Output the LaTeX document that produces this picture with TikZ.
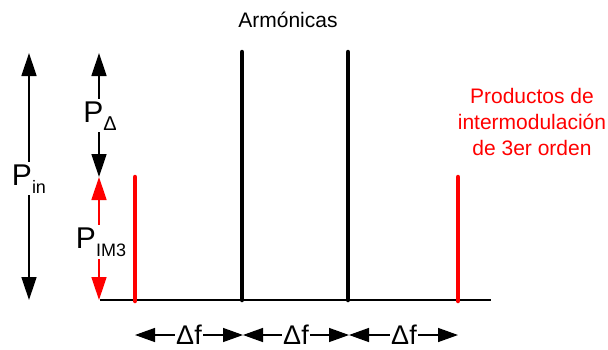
\documentclass[tikz,border=0pt]{standalone}
\usepackage{fontspec}
\setmainfont{Liberation Sans}
\usetikzlibrary{arrows.meta}

\definecolor{imred}{RGB}{255,0,0}
\newcommand{\lowsub}[1]{\raisebox{-0.28em}{\fontsize{18}{18}\selectfont #1}}

\begin{document}
\begin{tikzpicture}[x=1pt,y=-1pt,
  every node/.style={font=\fontsize{21}{26}\selectfont, inner sep=1pt},
  tone/.style={line width=4.5pt, line cap=round},
  bigtip/.style={{Triangle[length=23pt,width=15pt]}-{Triangle[length=23pt,width=15pt]}},
  smalltip/.style={{Triangle[length=20pt,width=14pt]}-{Triangle[length=20pt,width=14pt]}},
  power/.style={line width=1.4pt, bigtip},
  spacing/.style={line width=1.4pt, smalltip},
  plabel/.style={fill=white, inner sep=2pt, anchor=base, font=\fontsize{30}{32}\selectfont},
  dflabel/.style={fill=white, anchor=base, inner sep=1.5pt, font=\fontsize{27}{30}\selectfont}]
  \useasboundingbox (0,0) rectangle (608,349);

  % baseline and tones
  \coordinate (axisL) at (100,300);
  \coordinate (axisR) at (491,300);
  \draw[line width=1.6pt] (axisL) -- (axisR);

  \coordinate (imL) at (135,301);
  \coordinate (imLtop) at (135,177);
  \coordinate (hL) at (242,300);
  \coordinate (hLtop) at (242,52);
  \coordinate (hR) at (348,300);
  \coordinate (hRtop) at (348,52);
  \coordinate (imR) at (458,301);
  \coordinate (imRtop) at (458,177);

  \draw[tone] (hL) -- (hLtop);
  \draw[tone] (hR) -- (hRtop);
  \draw[tone,imred] (imL) -- (imLtop);
  \draw[tone,imred] (imR) -- (imRtop);

  % labels
  \node[anchor=base] (arm) at (288,27) {Armónicas};
  \node[text=imred, align=center] (prod) at (532,122)
    {Productos de\\intermodulación\\de 3er orden};

  % power arrows
  \coordinate (pinTop) at (29,53);
  \coordinate (pinBot) at (29,300);
  \draw[power] (pinTop) -- (pinBot);
  \node[plabel] (pin) at (29,185) {P\lowsub{in}};

  \coordinate (pdTop) at (99,53);
  \coordinate (pdBot) at (99,177);
  \draw[power] (pdTop) -- (pdBot);
  \node[plabel] (pdelta) at (100,122) {P\lowsub{\fontsize{20}{20}\selectfont Δ}};

  \coordinate (pimBot) at (99,300);
  \draw[power,imred] (pdBot) -- (pimBot);
  \node[plabel] (pim) at (101,248) {P\lowsub{IM3}};

  % frequency spacing
  \coordinate (s0) at (135,335);
  \coordinate (s1) at (243,335);
  \coordinate (s2) at (349,335);
  \coordinate (s3) at (458,335);
  \draw[spacing] (s0) -- (s1);
  \draw[spacing] (s1) -- (s2);
  \draw[spacing] (s2) -- (s3);
  \node[dflabel] (df1) at (189,344) {Δf};
  \node[dflabel] (df2) at (296,344) {Δf};
  \node[dflabel] (df3) at (404,344) {Δf};
\end{tikzpicture}
\end{document}
